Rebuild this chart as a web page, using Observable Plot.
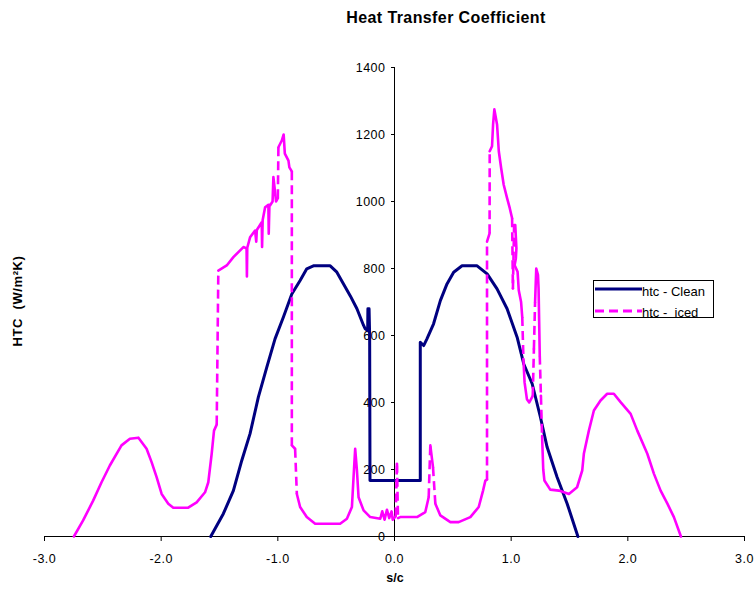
<!DOCTYPE html>
<html><head><meta charset="utf-8">
<script src="https://cdn.jsdelivr.net/npm/d3@7"></script>
<script src="https://cdn.jsdelivr.net/npm/@observablehq/plot@0.6"></script>
<style>
body{margin:0;background:#fff}
svg{font-family:"Liberation Sans",Arial,sans-serif}
</style>
</head><body><div id="chart"></div>
<script>
// ---- data ----
const xTicks = [-3, -2, -1, 0, 1, 2, 3];
const yTicks = [0, 200, 400, 600, 800, 1000, 1200, 1400];
const seriesNames = ["htc - Clean", "htc -  iced"];
const titleText = "Heat Transfer Coefficient";
const xLabel = "s/c";
const yLabel = "HTC  (W/m\u00B2K)";

const cleanX = [-1.575,-1.467,-1.381,-1.309,-1.238,-1.167,-1.095,-1.024,-0.952,-0.88,-0.809,-0.752,-0.695,-0.551,-0.494,-0.437,-0.38,-0.322,-0.265,-0.251,-0.23,-0.228,-0.218,-0.213,-0.21,0.221,0.221,0.25,0.278,0.335,0.393,0.45,0.507,0.579,0.708,0.794,0.879,0.965,1.051,1.108,1.18,1.251,1.308,1.394,1.48,1.572];
const cleanY = [0,68,137,227,307,416,505,590,655,724,764,799,808,808,789,754,719,680,630,620,615,680,680,600,167,167,580,570,590,635,704,754,789,808,808,784,739,680,595,515,456,356,267,177,98,0];

const icedX = [-2.748,-2.669,-2.583,-2.511,-2.44,-2.34,-2.268,-2.195,-2.125,-2.082,-2.039,-1.996,-1.939,-1.896,-1.768,-1.696,-1.624,-1.596,-1.567,-1.547,-1.524,-1.51,-1.438,-1.381,-1.295,-1.268,-1.265,-1.262,-1.238,-1.195,-1.185,-1.18,-1.138,-1.135,-1.13,-1.109,-1.081,-1.078,-1.072,-1.067,-1.045,-1.038,-1.015,-1.0,-0.995,-0.966,-0.95,-0.94,-0.909,-0.901,-0.88,-0.88,-0.852,-0.837,-0.809,-0.752,-0.68,-0.466,-0.408,-0.365,-0.351,-0.337,-0.322,-0.308,-0.265,-0.208,-0.122,-0.105,-0.085,-0.065,-0.045,-0.025,-0.015,0.01,0.021,0.03,0.049,0.193,0.264,0.293,0.307,0.33,0.35,0.393,0.479,0.55,0.65,0.722,0.759,0.779,0.793,0.793,0.815,0.816,0.836,0.845,0.856,0.879,0.894,0.914,0.936,0.965,0.988,1.008,1.015,1.025,1.035,1.045,1.04,1.03,1.055,1.065,1.085,1.095,1.105,1.115,1.135,1.155,1.185,1.195,1.205,1.215,1.23,1.235,1.24,1.245,1.255,1.265,1.275,1.285,1.335,1.409,1.495,1.565,1.609,1.623,1.666,1.709,1.766,1.823,1.88,1.938,2.024,2.081,2.167,2.224,2.281,2.339,2.395,2.455];
const icedY = [0,48,107,162,212,272,292,295,262,222,177,127,98,86,86,102,132,162,247,316,334,794,809,834,864,860,776,862,893,913,880,915,938,864,945,983,990,904,990,988,1000,1073,1000,1010,1162,1182,1200,1143,1122,1102,1090,272,262,127,88,58,38,38,53,88,177,262,197,117,78,58,53,75,50,80,55,75,50,60,217,55,58,58,73,117,272,207,98,63,43,43,58,88,137,167,170,880,905,1150,1165,1230,1275,1230,1150,1100,1050,1010,980,950,740,930,930,860,830,810,790,735,700,655,530,460,410,400,420,560,700,800,780,740,640,540,420,300,200,167,140,137,127,147,197,247,316,376,406,426,426,401,366,316,247,187,137,98,58,0];

// ---- layout ----
const W = 755, H = 591, mL = 44, mR = 11, mT = 67, mB = 55;
const kx = (W - mL - mR) / 6, ky = (H - mT - mB) / 1400;
const navy = "#000080", magenta = "#FF00FF";

const clean = cleanX.map((x, i) => ({x, y: cleanY[i]}));
const iced = icedX.map((x, i) => ({x, y: icedY[i]}));

// Excel-like dashing: long near-vertical jumps appear dashed, dense parts solid
const solidRows = [], dashSegs = [];
let run = 0;
solidRows.push({...iced[0], run});
for (let i = 1; i < iced.length; i++) {
  const a = iced[i - 1], b = iced[i];
  const dxp = Math.abs(b.x - a.x) * kx, dyp = Math.abs(b.y - a.y) * ky;
  if (dxp < 4 && dyp > 35) { dashSegs.push({x1: a.x, y1: a.y, x2: b.x, y2: b.y}); run++; }
  solidRows.push({...b, run});
}

const plot = Plot.plot({
  width: W, height: H,
  marginLeft: mL, marginRight: mR, marginTop: mT, marginBottom: mB,
  x: {domain: [-3, 3], axis: null},
  y: {domain: [0, 1400], axis: null},
  style: {fontFamily: '"Liberation Sans", Arial, sans-serif', fontSize: "12px", color: "#000", background: "#fff", overflow: "visible"},
  marks: [
    Plot.ruleY([0], {stroke: "#000", strokeWidth: 1}),
    Plot.ruleX([0], {y1: 0, y2: 1400, stroke: "#000", strokeWidth: 1}),
    Plot.ruleX(xTicks, {x: d => d, y1: 0, y2: -5 / ky, stroke: "#000"}),
    Plot.text(xTicks, {x: d => d, y: 0, dy: 22, text: d => d.toFixed(1), fontSize: 12.5, fill: "#000"}),
    Plot.ruleY(yTicks, {y: d => d, x1: -3 / kx, x2: 0, stroke: "#000"}),
    Plot.text(yTicks, {x: 0, y: d => d, dx: -9, textAnchor: "end", text: d => String(d), fontSize: 12.5, fill: "#000"}),
    Plot.line(clean, {x: "x", y: "y", stroke: navy, strokeWidth: 3, curve: "linear"}),
    Plot.line(solidRows, {x: "x", y: "y", z: "run", stroke: magenta, strokeWidth: 2.6, curve: "linear"}),
    Plot.link(dashSegs, {x1: "x1", y1: "y1", x2: "x2", y2: "y2", stroke: magenta, strokeWidth: 2.6, strokeDasharray: "9,5"})
  ]
});
document.getElementById("chart").appendChild(plot);

const svg = d3.select(plot);
svg.selectAll("text").style("letter-spacing", "0.5px");
svg.append("text").attr("x", 446).attr("y", 23).attr("text-anchor", "middle")
  .attr("font-weight", "bold").attr("font-size", 16).style("letter-spacing", "0.4px").text(titleText);
svg.append("text").attr("x", 395).attr("y", 582).attr("text-anchor", "middle")
  .attr("font-weight", "bold").attr("font-size", 12.5).text(xLabel);
svg.append("text").attr("transform", "translate(22,301) rotate(-90)").attr("text-anchor", "middle")
  .attr("font-weight", "bold").attr("font-size", 13).style("letter-spacing", "0.6px")
  .style("white-space", "pre").text(yLabel);

// legend
const lg = svg.append("g").attr("text-anchor", "start");
lg.append("rect").attr("x", 593.5).attr("y", 280.5).attr("width", 120).attr("height", 37)
  .attr("fill", "#fff").attr("stroke", "#000").attr("stroke-width", 1);
lg.append("line").attr("x1", 595).attr("x2", 642).attr("y1", 289).attr("y2", 289)
  .attr("stroke", navy).attr("stroke-width", 3);
lg.append("line").attr("x1", 595).attr("x2", 642).attr("y1", 311).attr("y2", 311)
  .attr("stroke", magenta).attr("stroke-width", 3).attr("stroke-dasharray", "9,5");
lg.append("text").attr("x", 642).attr("y", 296).attr("font-size", 13).attr("text-anchor", "start").text(seriesNames[0]);
lg.append("text").attr("x", 642).attr("y", 317).attr("font-size", 13).attr("text-anchor", "start")
  .style("white-space", "pre").text(seriesNames[1]);
</script>
</body></html>
